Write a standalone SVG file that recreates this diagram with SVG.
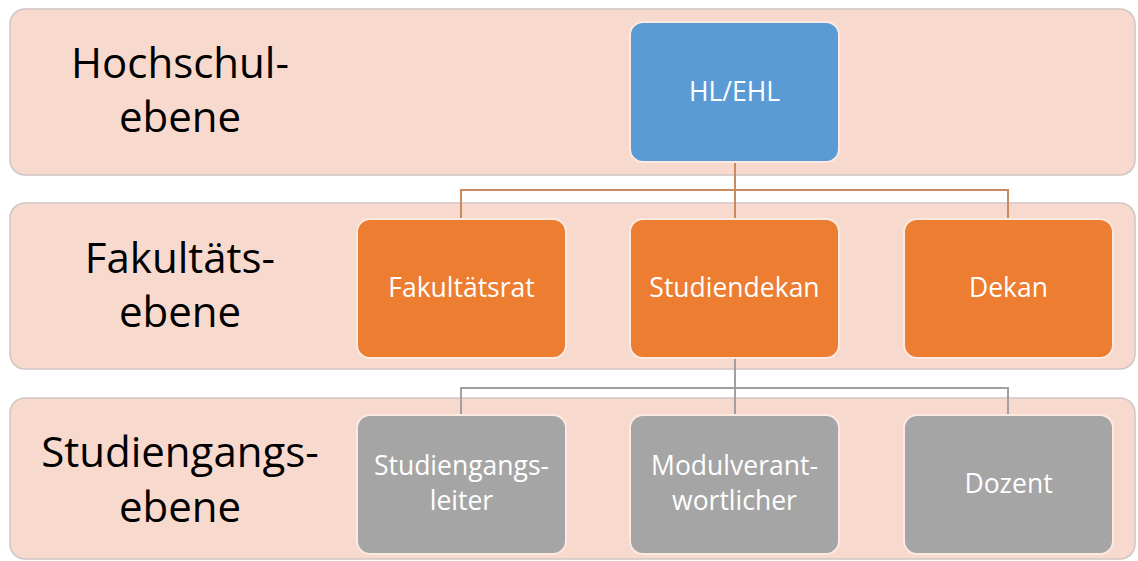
<svg xmlns="http://www.w3.org/2000/svg" width="1138" height="561" viewBox="0 0 1138 561">
<style>
.band{fill:#F8D9CE;stroke:#CFC6C3;stroke-width:1.5}
.lvl{font-family:"Open Sans","Liberation Sans",sans-serif;font-size:42px;fill:#000;text-anchor:middle}
.box{stroke:#FBE9E2;stroke-width:2}
.blue{fill:#5B9BD5}
.orange{fill:#ED7D31}
.grey{fill:#A5A5A5}
.bt{font-family:"Open Sans","Liberation Sans",sans-serif;font-size:26.5px;fill:#FFFFFF;text-anchor:middle}
.c1{fill:none;stroke:#C98A5E;stroke-width:2}
.c2{fill:none;stroke:#A0A0A0;stroke-width:2}
</style>
<rect width="1138" height="561" fill="#FFFFFF"/>
<g id="band-hochschule">
<rect class="band" x="10" y="9" width="1125" height="166" rx="15"/>
<text class="lvl" x="180" y="78">Hochschul-</text>
<text class="lvl" x="180" y="132">ebene</text>
</g>
<g id="band-fakultaet">
<rect class="band" x="10" y="203" width="1125" height="166" rx="15"/>
<text class="lvl" x="180" y="273">Fakultäts-</text>
<text class="lvl" x="180" y="327">ebene</text>
</g>
<g id="band-studiengang">
<rect class="band" x="10" y="398" width="1125" height="161" rx="15"/>
<text class="lvl" x="180" y="467">Studiengangs-</text>
<text class="lvl" x="180" y="522">ebene</text>
</g>
<g id="connectors">
<path class="c1" d="M735 162V219M461 219V190H1008V219"/>
<path class="c2" d="M735 358V415M461 415V388H1008V415"/>
</g>
<g id="hl-ehl">
<rect class="box blue" x="630" y="22" width="209" height="140" rx="13"/>
<text class="bt" x="734.5" y="101">HL/EHL</text>
</g>
<g id="fakultaetsrat">
<rect class="box orange" x="357" y="219" width="209" height="139" rx="13"/>
<text class="bt" x="461.5" y="297">Fakultätsrat</text>
</g>
<g id="studiendekan">
<rect class="box orange" x="630" y="219" width="209" height="139" rx="13"/>
<text class="bt" x="734.5" y="297">Studiendekan</text>
</g>
<g id="dekan">
<rect class="box orange" x="904" y="219" width="209" height="139" rx="13"/>
<text class="bt" x="1008.5" y="297">Dekan</text>
</g>
<g id="studiengangsleiter">
<rect class="box grey" x="357" y="415" width="209" height="139" rx="13"/>
<text class="bt" x="461.5" y="475">Studiengangs-</text>
<text class="bt" x="461.5" y="510">leiter</text>
</g>
<g id="modulverantwortlicher">
<rect class="box grey" x="630" y="415" width="209" height="139" rx="13"/>
<text class="bt" x="734.5" y="475">Modulverant-</text>
<text class="bt" x="734.5" y="510">wortlicher</text>
</g>
<g id="dozent">
<rect class="box grey" x="904" y="415" width="209" height="139" rx="13"/>
<text class="bt" x="1008.5" y="493">Dozent</text>
</g>
</svg>
